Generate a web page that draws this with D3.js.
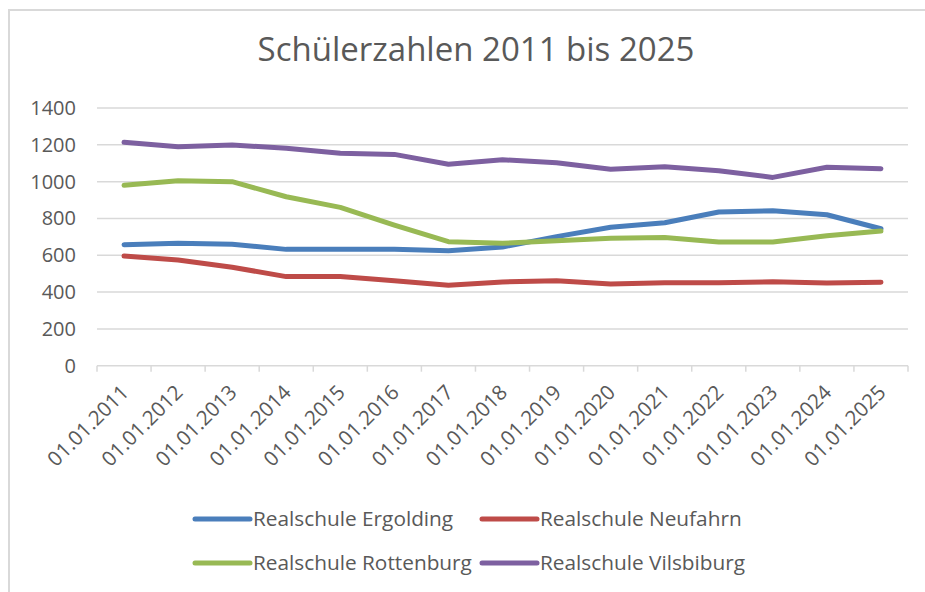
<!DOCTYPE html>
<html>
<head>
<meta charset="utf-8">
<script src="https://cdn.jsdelivr.net/npm/d3@7"></script>
<style>
  body { margin: 0; background: #fff; }
  text { font-family: "Open Sans", "Noto Sans", sans-serif; fill: #595959; }
</style>
</head>
<body>
<script>
// data
var years = ["01.01.2011", "01.01.2012", "01.01.2013", "01.01.2014", "01.01.2015",
             "01.01.2016", "01.01.2017", "01.01.2018", "01.01.2019", "01.01.2020",
             "01.01.2021", "01.01.2022", "01.01.2023", "01.01.2024", "01.01.2025"];
var ergolding   = [657, 665, 660, 632, 632, 632, 625, 645, 701, 752, 777, 835, 842, 820, 744];
var neufahrn    = [596, 574, 535, 484, 484, 462, 437, 455, 462, 444, 451, 451, 456, 449, 454];
var rottenburg  = [980, 1005, 1000, 918, 860, 764, 674, 665, 679, 692, 697, 672, 672, 706, 732];
var vilsbiburg  = [1214, 1190, 1199, 1181, 1154, 1148, 1094, 1119, 1103, 1067, 1081, 1059, 1023, 1078, 1070];
var seriesNames = ["Realschule Ergolding", "Realschule Neufahrn", "Realschule Rottenburg", "Realschule Vilsbiburg"];
var seriesColors = ["#4a7ebb", "#be4b48", "#98b954", "#7d60a0"];
var yTicks = [0, 200, 400, 600, 800, 1000, 1200, 1400];

(function(){
    var width = 925, height = 592;
    var svg = d3.select("body").append("svg")
        .attr("width", width)
        .attr("height", height);

    //chart frame (cut off at right and bottom in the original)
    svg.append("path")
        .attr("d", "M9,600 L9,10 L930,10")
        .attr("fill", "none")
        .attr("stroke", "#d9d9d9")
        .attr("stroke-width", 2);

    //title
    svg.append("text")
        .attr("x", 476)
        .attr("y", 61)
        .attr("text-anchor", "middle")
        .style("font-size", "33px")
        .text("Schülerzahlen 2011 bis 2025");

    var x = d3.scaleBand().domain(years).range([97, 908]);
    var y = d3.scaleLinear().domain([0, 1400]).range([365.7, 108]);

    //gridlines
    svg.append("g").selectAll("line")
        .data(yTicks)
        .enter().append("line")
        .attr("x1", 97).attr("x2", 908)
        .attr("y1", function(d){ return y(d); })
        .attr("y2", function(d){ return y(d); })
        .attr("stroke", "#d9d9d9")
        .attr("stroke-width", 1.5);

    //y labels
    svg.append("g").selectAll("text")
        .data(yTicks)
        .enter().append("text")
        .attr("x", 76)
        .attr("y", function(d){ return y(d) + 7; })
        .attr("text-anchor", "end")
        .style("font-size", "20px")
        .text(function(d){ return d; });

    //x axis ticks
    var bounds = years.map(function(d){ return x(d); }).concat([908]);
    svg.append("g").selectAll("line")
        .data(bounds)
        .enter().append("line")
        .attr("x1", function(d){ return d; })
        .attr("x2", function(d){ return d; })
        .attr("y1", y(0))
        .attr("y2", y(0) + 6)
        .attr("stroke", "#d9d9d9")
        .attr("stroke-width", 1.5);

    //x labels
    svg.append("g").selectAll("text")
        .data(years)
        .enter().append("text")
        .attr("transform", function(d){
            return "translate(" + (x(d) + x.bandwidth() / 2 + 6) + "," + (y(0) + 28) + ") rotate(-45)";
        })
        .attr("text-anchor", "end")
        .style("font-size", "20.5px")
        .text(function(d){ return d; });

    //lines
    var allSeries = [ergolding, neufahrn, rottenburg, vilsbiburg];
    var line = d3.line()
        .x(function(d, i){ return x(years[i]) + x.bandwidth() / 2; })
        .y(function(d){ return y(d); });

    svg.append("g").selectAll("path")
        .data(allSeries)
        .enter().append("path")
        .attr("d", line)
        .attr("fill", "none")
        .attr("stroke", function(d, i){ return seriesColors[i]; })
        .attr("stroke-width", 5)
        .attr("stroke-linecap", "round")
        .attr("stroke-linejoin", "round");

    //legend
    var legendPos = [[195, 519], [482, 519], [195, 563], [482, 563]];
    var legend = svg.append("g").selectAll("g")
        .data(seriesNames)
        .enter().append("g")
        .attr("transform", function(d, i){ return "translate(" + legendPos[i][0] + "," + legendPos[i][1] + ")"; });
    legend.append("line")
        .attr("x1", 0).attr("x2", 55)
        .attr("stroke", function(d, i){ return seriesColors[i]; })
        .attr("stroke-width", 5)
        .attr("stroke-linecap", "round");
    legend.append("text")
        .attr("x", 58)
        .attr("y", 7)
        .style("font-size", "20.8px")
        .text(function(d){ return d; });
})();
</script>
</body>
</html>
